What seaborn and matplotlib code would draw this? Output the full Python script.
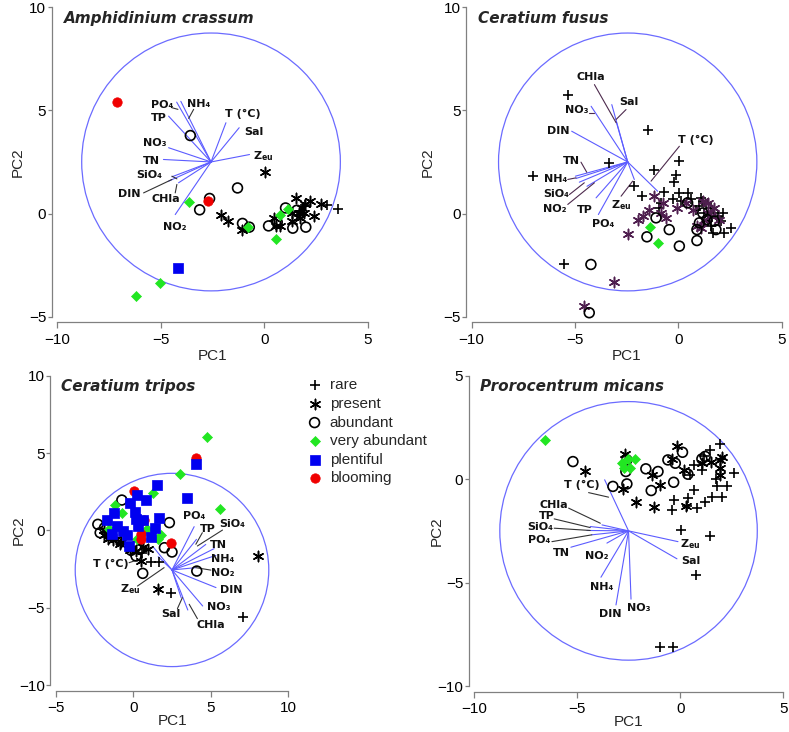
import matplotlib
matplotlib.use("Agg")
import matplotlib.pyplot as plt
from matplotlib.patches import Circle
import pandas as pd
import seaborn as sns

# Categories of abundance (legend order)
categories = ["rare", "present", "abundant", "very abundant", "plentiful", "blooming"]

# Environmental variables (same order in every panel)
variables = ["T (°C)", "Sal", "Zeu", "CHla", "NO2", "NO3", "NH4", "DIN", "TN", "PO4", "TP", "SiO4"]
var_text = ["T (°C)", "Sal", "Z$_{\\mathregular{eu}}$", "CHla", "NO₂", "NO₃", "NH₄", "DIN", "TN", "PO₄", "TP", "SiO₄"]

# ---------------- Amphidinium crassum ----------------
amph_rare_x = [3.56, 3.03, 1.98, 1.58]
amph_rare_y = [0.24, 0.39, 0.39, -0.05]
amph_present_x = [0.02, -2.08, -1.77, -1.08, 0.45, 0.56, 0.77, 1.34, 1.53, 1.66, 1.82, 1.95, 2.22, 2.42, 2.75, 1.74, 1.90, 1.34]
amph_present_y = [2.02, -0.05, -0.37, -0.82, -0.21, -0.61, -0.61, -0.37, 0.76, 0.03, 0.27, 0.48, 0.60, -0.13, 0.48, -0.21, 0.03, 0.03]
amph_abundant_x = [-3.57, -1.29, -2.64, -3.12, -1.05, -0.72, 0.21, 0.63, 1.03, 1.38, 2.01, 1.58]
amph_abundant_y = [3.78, 1.24, 0.73, 0.18, -0.48, -0.66, -0.60, -0.42, 0.27, -0.71, -0.66, 0.16]
amph_vabund_x = [-3.64, -5.02, -6.18, -0.76, 0.55, 0.76, 1.14]
amph_vabund_y = [0.55, -3.38, -4.00, -0.66, -1.23, -0.05, 0.24]
amph_plentiful_x = [-4.17]
amph_plentiful_y = [-2.63]
amph_blooming_x = [-7.09, -2.74]
amph_blooming_y = [5.40, 0.63]
amph_origin = (-2.57, 2.50)
amph_tip_x = [-1.85, -1.21, -0.71, -4.14, -4.30, -4.62, -4.03, -4.62, -4.87, -4.23, -4.62, -4.46]
amph_tip_y = [4.40, 4.16, 2.86, 1.49, -0.05, 3.19, 5.44, 1.57, 2.62, 5.40, 4.72, 1.78]

# ---------------- Ceratium fusus ----------------
fusus_rare_x = [-5.35, -1.48, -7.02, -3.37, -5.55, 0.02, -1.16, -0.11, -0.19, -2.13, -1.77, -0.68, -0.27, 0.05, 0.45,
                -0.92, -0.84, 0.13, 0.61, 1.10, 1.18, 1.34, 1.58, 1.74, 1.90, 2.15, 2.06, 2.55, 1.66, 2.23, 1.42, 1.26,
                0.85, 1.58, 1.02]
fusus_rare_y = [5.73, 4.07, 1.84, 2.46, -2.47, 2.54, 2.13, 1.89, 1.52, 1.32, 0.84, 1.03, 0.71, 1.00, 1.00,
                0.27, 0.52, 0.60, 0.68, 0.76, 0.60, 0.44, 0.27, 0.03, -0.13, 0.03, -0.37, -0.69, -0.94, -0.94, -0.37, 0.03,
                0.19, -0.61, 0.36]
fusus_present_x = [-1.16, -2.42, -3.13, -4.55, -1.97, -1.73, -1.40, -0.84, -0.60, -0.76, -0.06, 0.37, 0.69, 1.10, 1.42,
                   1.74, 1.42, 1.26, 0.90, 1.58, 1.18, 1.98]
fusus_present_y = [0.87, -0.99, -3.33, -4.49, -0.29, -0.10, 0.15, 0.03, -0.21, 0.52, 0.27, 0.52, 0.19, -0.69, 0.52,
                   0.27, 0.03, -0.29, -0.61, -0.13, 0.60, -0.29]
fusus_abundant_x = [-1.08, -1.52, -0.44, 0.05, 0.90, 0.90, -4.23, -4.31, 0.45, 1.18, 1.39, 1.74, 1.82, 1.02]
fusus_abundant_y = [-0.21, -1.13, -0.78, -1.58, -1.31, -0.78, -2.47, -4.81, 0.52, 0.03, -0.29, -0.37, -0.78, -0.45]
fusus_vabund_x = [-1.35, -0.97]
fusus_vabund_y = [-0.65, -1.42]
fusus_origin = (-2.45, 2.50)
fusus_tip_x = [-1.00, -3.22, -2.13, -3.01, -4.42, -4.22, -4.95, -5.16, -4.98, -3.87, -3.98, -4.79]
fusus_tip_y = [1.08, 5.28, 1.65, 4.47, 1.32, 5.20, 1.70, 3.99, 1.81, -0.05, 0.76, 1.52]

# ---------------- Ceratium tripos ----------------
tripos_rare_x = [7.05, 2.43, 1.14, 1.68, 0.55]
tripos_rare_y = [-5.60, -4.03, -2.05, -2.05, -1.45]
tripos_present_x = [8.02, 1.57, 0.49, -1.87, -1.55, -1.12, -0.80, -1.65, 0.92, 0.17, 0.60, -1.35, -1.90, -0.90, -0.20]
tripos_present_y = [-1.66, -3.77, -2.00, -0.32, -0.26, -0.58, -0.73, -0.58, -1.23, -1.34, -1.08, -0.62, 0.00, -0.90, -1.30]
tripos_abundant_x = [-0.75, -2.30, 2.32, 2.00, 2.49, 4.09, 0.60, 0.17, -0.15, 0.39, -1.87, -2.15, 0.17]
tripos_abundant_y = [1.96, 0.39, 0.50, -1.12, -1.40, -2.63, -2.78, -1.01, -1.29, -1.23, 0.17, -0.15, -1.66]
tripos_vabund_x = [4.73, 3.01, 1.29, 5.61, -1.20, -0.73, -1.55, 0.86, 1.78, 1.57, 0.22]
tripos_vabund_y = [6.03, 3.66, 2.44, 1.36, 1.64, 1.14, 0.06, 0.06, -0.32, -0.58, -0.58]
tripos_plentiful_x = [4.04, 3.46, 1.51, 0.22, 0.82, -0.22, 0.11, -1.23, -1.72, -1.40, -1.08, -0.69, -0.41, -0.30,
                      0.17, 0.28, 0.60, 1.14, 1.42, 1.63]
tripos_plentiful_y = [4.27, 2.07, 2.91, 2.26, 1.96, 1.75, 1.21, 1.10, 0.67, -0.26, 0.28, -0.04, -0.32, -1.01,
                      0.75, 0.28, 0.65, -0.43, 0.17, 0.82]
tripos_blooming_x = [4.03, 0.05, 0.48, 0.48, 2.41, 0.69]
tripos_blooming_y = [4.70, 2.54, -0.26, -0.58, -0.84, 0.65]
tripos_origin = (2.49, -2.56)
tripos_tip_x = [1.30, 3.08, 1.60, 3.51, 4.04, 4.47, 5.32, 5.33, 5.21, 3.92, 4.07, 4.67]
tripos_tip_y = [-1.10, -4.35, -1.70, -5.15, -2.41, -4.89, -1.62, -3.70, -1.18, 0.24, -0.58, -0.91]

# ---------------- Prorocentrum micans ----------------
micans_rare_x = [1.94, 1.46, 1.13, 0.65, 1.05, 2.59, 2.27, 1.78, 1.75, 2.02, 1.54, 1.21, 0.40, 0.65, 0.81, 0.32,
                 -0.32, -0.40, 0.03, 1.46, 0.78, -1.00, -0.37, 0.49]
micans_rare_y = [1.69, 1.42, 1.10, 0.69, 0.45, 0.29, -0.32, -0.35, 0.00, -0.84, -0.84, -1.08, -0.92, -0.52, -1.37, -1.32,
                 -1.03, -1.48, -2.45, -2.77, -4.62, -8.12, -8.09, 0.21]
micans_present_x = [-4.61, -2.67, -2.78, -2.14, -1.29, -1.38, -0.97, -0.40, -0.16, 0.19, 0.29, 1.05, 1.91, 1.94, 2.02,
                    1.91, 1.50]
micans_present_y = [0.40, 1.21, -0.48, -1.08, -1.35, 0.21, -0.27, 0.97, 1.61, 0.45, -1.29, 0.77, 0.93, 0.53, 1.05,
                    0.21, 0.85]
micans_abundant_x = [-5.21, -3.27, -2.59, -2.64, -2.59, -1.67, -1.08, -1.41, -0.32, -0.60, -0.24, 0.11, 0.37, 1.05, 1.21]
micans_abundant_y = [0.85, -0.35, -0.23, 0.37, 0.93, 0.50, 0.37, -0.55, -0.15, 0.93, 0.77, 1.30, 0.24, 0.98, 1.10]
micans_vabund_x = [-6.59, -2.83, -2.56, -2.43, -2.18, -2.75]
micans_vabund_y = [1.90, 0.77, 0.97, 0.53, 0.97, 0.53]
micans_origin = (-2.51, -2.50)
micans_tip_x = [-3.67, -0.16, -0.11, -3.80, -3.56, -2.39, -3.85, -3.12, -5.31, -4.29, -4.37, -4.53]
micans_tip_y = [-0.03, -3.85, -3.02, -2.21, -3.09, -5.80, -4.74, -6.08, -3.29, -2.69, -2.29, -2.48]

circle_radius = 6.25

# ---------------- label placement (data units) ----------------
amph_lab_x = [-1.05, -0.48, -0.03, -4.75, -4.33, -5.30, -3.17, -6.52, -5.46, -4.95, -5.11, -5.54]
amph_lab_y = [4.85, 3.97, 2.78, 0.68, -0.65, 3.40, 5.33, 0.96, 2.57, 5.24, 4.61, 1.86]
amph_leaders = [(-4.46, 5.13, -4.17, 5.05), (-3.41, 5.05, -3.65, 4.61), (-4.46, 1.81, -4.22, 1.68),
                (-5.83, 1.00, -4.46, 1.65), (-4.30, 1.00, -4.22, 1.41)]
fusus_lab_x = [0.86, -2.37, -2.77, -4.22, -6.00, -4.90, -5.95, -5.83, -5.19, -3.66, -4.51, -5.92]
fusus_lab_y = [3.55, 5.41, 0.40, 6.63, 0.24, 5.01, 1.65, 3.99, 2.55, -0.53, 0.15, 0.97]
fusus_leaders = [(-4.06, 6.25, -3.01, 4.40), (-2.53, 5.04, -3.01, 4.56), (-4.31, 4.88, -4.06, 4.88),
                 (0.05, 3.26, -1.32, 1.57), (-4.71, 2.49, -4.43, 2.00), (-5.35, 1.65, -4.95, 1.73),
                 (-5.27, 0.92, -4.55, 1.49), (-5.35, 0.44, -4.06, 1.49), (-2.77, 0.84, -2.21, 1.57)]
tripos_lab_x = [-1.46, 2.41, -0.23, 5.00, 5.79, 5.49, 5.75, 6.29, 5.49, 3.92, 4.78, 6.39]
tripos_lab_y = [-2.20, -5.43, -3.77, -6.12, -2.73, -4.93, -1.87, -3.88, -0.97, 0.92, 0.06, 0.43]
tripos_leaders = [(4.45, -0.15, 4.03, -0.90), (5.75, 0.02, 4.13, -1.01), (5.00, -2.57, 4.03, -2.41),
                  (4.13, -5.71, 3.60, -4.78), (2.84, -5.06, 3.16, -4.35), (-0.28, -2.09, 0.37, -1.87),
                  (0.26, -3.60, 1.98, -2.41)]
micans_lab_x = [-4.77, 0.52, 0.49, -6.12, -4.04, -2.02, -3.80, -3.40, -5.78, -6.84, -6.47, -6.80]
micans_lab_y = [-0.28, -3.95, -3.13, -1.24, -3.71, -6.21, -5.19, -6.51, -3.55, -2.93, -1.76, -2.31]
micans_leaders = [(-4.45, -0.65, -3.48, -0.87), (-5.42, -1.40, -3.88, -2.13), (-6.12, -1.92, -4.37, -2.34),
                  (-6.12, -2.37, -4.37, -2.48), (-6.23, -3.02, -4.29, -2.69)]

# ---------------- styles ----------------
GREEN = "#22e622"
BLUE = "#0000f0"
RED = "#f00000"
ARROW = "#5c5cff"

def marker_style(cat, present_color):
    if cat == "rare":
        return dict(marker="+", s=60, linewidth=1.2, color="black")
    if cat == "present":
        return dict(marker=(6, 2, 0), s=55, linewidth=1.1, color=present_color)
    if cat == "abundant":
        return dict(marker="o", s=50, linewidth=1.2, color="black", facecolor="none", edgecolor="black")
    if cat == "very abundant":
        return dict(marker="D", s=26, linewidth=0.5, color=GREEN, edgecolor=GREEN)
    if cat == "plentiful":
        return dict(marker="s", s=44, linewidth=0.5, color=BLUE, edgecolor=BLUE)
    return dict(marker="o", s=46, linewidth=0.5, color=RED, edgecolor=RED)


def draw_panel(ax, title, groups, origin, tip_x, tip_y, lab_x, lab_y, leaders, leader_color,
               xlim, ylim, present_color="black", with_labels=False, xpad=2, ylab_x=-0.115):
    ax.add_patch(Circle(origin, circle_radius, fill=False, ec="#6b6bff", lw=0.9, zorder=1))
    for tx, ty in zip(tip_x, tip_y):
        ax.plot([origin[0], tx], [origin[1], ty], color=ARROW, lw=0.8, zorder=1)
    for x0, y0, x1, y1 in leaders:
        ax.plot([x0, x1], [y0, y1], color=leader_color, lw=0.8, zorder=1)
    for txt, lx, ly in zip(var_text, lab_x, lab_y):
        ax.text(lx, ly, txt, ha="center", va="center", fontsize=8, fontweight="bold",
                family="DejaVu Sans", color="#111111", zorder=2)

    # draw order: blooming under plentiful
    order = ["rare", "present", "abundant", "very abundant", "blooming", "plentiful"]
    for cat in order:
        if cat not in groups:
            continue
        xs, ys = groups[cat]
        df = pd.DataFrame({"PC1": xs, "PC2": ys})
        kw = marker_style(cat, present_color)
        sns.scatterplot(data=df, x="PC1", y="PC2", ax=ax, zorder=3, clip_on=False,
                        label=cat if with_labels else None, legend=False, **kw)

    ax.set_xlim(*xlim)
    ax.set_ylim(*ylim)
    ax.set_xticks(range(xlim[0], xlim[1] + 1, 5))
    ax.set_yticks(range(ylim[0], ylim[1] + 1, 5))
    ax.set_xlabel("PC1", fontsize=11, labelpad=xpad)
    ax.set_ylabel("PC2", fontsize=11)
    ax.yaxis.set_label_coords(ylab_x, 0.5)
    ax.tick_params(colors="#808080", labelcolor="black", labelsize=11, length=4, width=0.9)
    ax.tick_params(axis="y", length=3, pad=1)
    for sp in ax.spines.values():
        sp.set_color("#808080")
        sp.set_linewidth(0.9)
    sns.despine(ax=ax, offset=4, trim=True)
    ax.text(0.02, 0.965, title, transform=ax.transAxes, fontsize=11, fontweight="bold",
            fontstyle="italic", family="DejaVu Sans", ha="left", va="center")


sns.set_style("ticks")
plt.rcParams["font.family"] = ["Liberation Sans", "DejaVu Sans"]

fig = plt.figure(figsize=(7.89, 7.32), dpi=100)
ax1 = fig.add_axes([0.0726, 0.5674, 0.3934, 0.4227])
ax2 = fig.add_axes([0.5978, 0.5674, 0.3929, 0.4227])
ax3 = fig.add_axes([0.0710, 0.0642, 0.2944, 0.4225])
ax4 = fig.add_axes([0.6011, 0.0628, 0.3916, 0.4239])

draw_panel(ax1, "Amphidinium crassum",
           {"rare": (amph_rare_x, amph_rare_y), "present": (amph_present_x, amph_present_y),
            "abundant": (amph_abundant_x, amph_abundant_y), "very abundant": (amph_vabund_x, amph_vabund_y),
            "plentiful": (amph_plentiful_x, amph_plentiful_y), "blooming": (amph_blooming_x, amph_blooming_y)},
           amph_origin, amph_tip_x, amph_tip_y, amph_lab_x, amph_lab_y, amph_leaders, "#333333",
           (-10, 5), (-5, 10), ylab_x=-0.105)

draw_panel(ax2, "Ceratium fusus",
           {"rare": (fusus_rare_x, fusus_rare_y), "present": (fusus_present_x, fusus_present_y),
            "abundant": (fusus_abundant_x, fusus_abundant_y), "very abundant": (fusus_vabund_x, fusus_vabund_y)},
           fusus_origin, fusus_tip_x, fusus_tip_y, fusus_lab_x, fusus_lab_y, fusus_leaders, "#4d2a4d",
           (-10, 5), (-5, 10), present_color="#4f1f4f", ylab_x=-0.12)

draw_panel(ax3, "Ceratium tripos",
           {"rare": (tripos_rare_x, tripos_rare_y), "present": (tripos_present_x, tripos_present_y),
            "abundant": (tripos_abundant_x, tripos_abundant_y), "very abundant": (tripos_vabund_x, tripos_vabund_y),
            "plentiful": (tripos_plentiful_x, tripos_plentiful_y), "blooming": (tripos_blooming_x, tripos_blooming_y)},
           tripos_origin, tripos_tip_x, tripos_tip_y, tripos_lab_x, tripos_lab_y, tripos_leaders, "#333333",
           (-5, 10), (-10, 10), with_labels=True, xpad=-1, ylab_x=-0.13)

draw_panel(ax4, "Prorocentrum micans",
           {"rare": (micans_rare_x, micans_rare_y), "present": (micans_present_x, micans_present_y),
            "abundant": (micans_abundant_x, micans_abundant_y), "very abundant": (micans_vabund_x, micans_vabund_y)},
           micans_origin, micans_tip_x, micans_tip_y, micans_lab_x, micans_lab_y, micans_leaders, "#333333",
           (-10, 5), (-10, 5), xpad=-1, ylab_x=-0.10)

# legend between the lower panels
handles, labels = ax3.get_legend_handles_labels()
lookup = dict(zip(labels, handles))
fig.legend([lookup[c] for c in categories], categories, loc="upper left",
           bbox_to_anchor=(0.389, 0.483), frameon=False, fontsize=11, handlelength=1.0,
           handletextpad=0.5, labelspacing=0.3, borderpad=0, borderaxespad=0)

fig.savefig("out.png", dpi=100)
